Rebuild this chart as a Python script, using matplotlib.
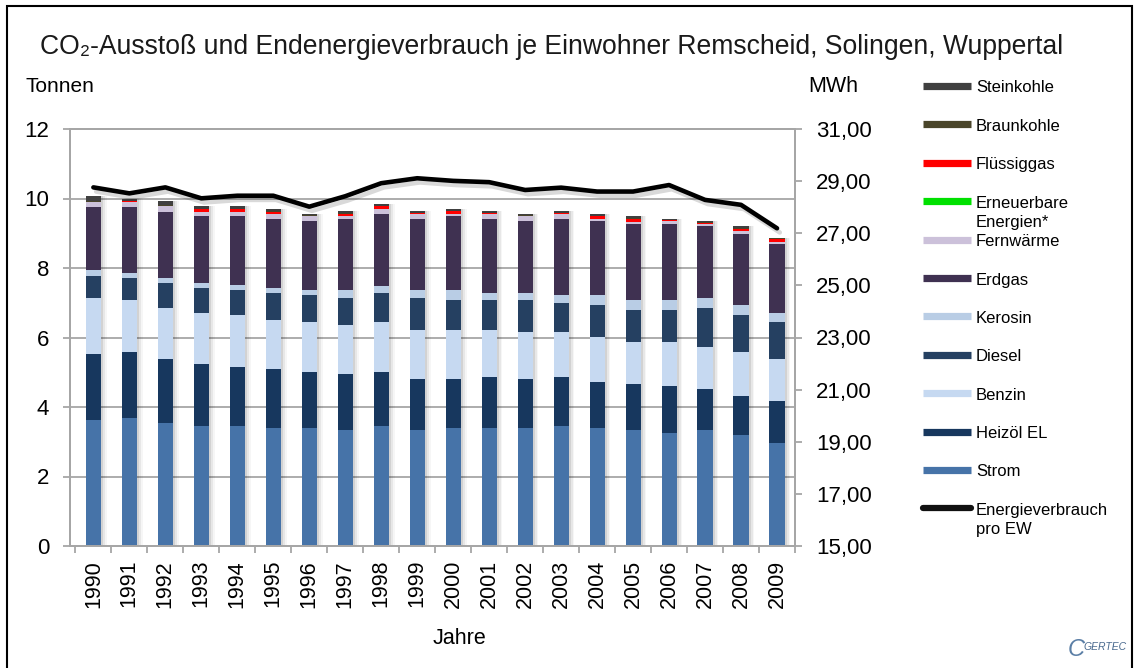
import numpy as np
import matplotlib
matplotlib.use("Agg")
import matplotlib.pyplot as plt
import matplotlib.patheffects as pe
from matplotlib.lines import Line2D
from matplotlib.patches import Rectangle

plt.rcParams['font.family'] = ['Liberation Sans', 'DejaVu Sans']

# =========================================================================
# DATA
# =========================================================================
years = [str(y) for y in range(1990, 2010)]

strom      = [3.62, 3.67, 3.53, 3.46, 3.46, 3.40, 3.40, 3.33, 3.46, 3.33,
              3.40, 3.40, 3.40, 3.46, 3.40, 3.33, 3.25, 3.33, 3.18, 2.96]
heizoel    = [1.90, 1.90, 1.84, 1.78, 1.69, 1.68, 1.62, 1.62, 1.56, 1.47,
              1.40, 1.46, 1.40, 1.40, 1.33, 1.33, 1.34, 1.18, 1.13, 1.20]
benzin     = [1.63, 1.50, 1.49, 1.47, 1.50, 1.43, 1.42, 1.42, 1.42, 1.43,
              1.43, 1.37, 1.35, 1.29, 1.28, 1.21, 1.28, 1.22, 1.27, 1.21]
diesel     = [0.63, 0.64, 0.71, 0.71, 0.71, 0.77, 0.77, 0.78, 0.84, 0.92,
              0.84, 0.84, 0.92, 0.85, 0.92, 0.91, 0.91, 1.13, 1.07, 1.07]
kerosin    = [0.15, 0.15, 0.14, 0.15, 0.14, 0.14, 0.15, 0.21, 0.21, 0.21,
              0.29, 0.21, 0.21, 0.21, 0.28, 0.29, 0.29, 0.29, 0.28, 0.27]
erdgas     = [1.83, 1.90, 1.90, 1.93, 2.00, 1.99, 1.99, 2.05, 2.06, 2.05,
              2.14, 2.13, 2.07, 2.20, 2.14, 2.21, 2.21, 2.06, 2.06, 1.99]
fernwaerme = [0.14, 0.14, 0.16, 0.12, 0.12, 0.13, 0.14, 0.08, 0.15, 0.15,
              0.06, 0.14, 0.14, 0.14, 0.06, 0.05, 0.07, 0.07, 0.07, 0.06]
erneuerbar = [0.00] * 20
fluessig   = [0.01, 0.02, 0.01, 0.07, 0.07, 0.07, 0.01, 0.07, 0.07, 0.01,
              0.07, 0.02, 0.01, 0.02, 0.08, 0.08, 0.02, 0.02, 0.07, 0.08]
braunkohle = [0.02, 0.02, 0.02, 0.02, 0.02, 0.02, 0.02, 0.02, 0.02, 0.02,
              0.02, 0.02, 0.02, 0.02, 0.02, 0.02, 0.02, 0.02, 0.02, 0.01]
steinkohle = [0.13, 0.06, 0.13, 0.06, 0.06, 0.07, 0.04, 0.05, 0.05, 0.04,
              0.05, 0.04, 0.04, 0.04, 0.05, 0.07, 0.03, 0.03, 0.05, 0.02]

energie_mwh = [28.76, 28.53, 28.76, 28.34, 28.44, 28.44, 28.02, 28.42, 28.92, 29.11,
               29.01, 28.96, 28.66, 28.75, 28.60, 28.60, 28.85, 28.28, 28.09, 27.19]

# stacking order bottom -> top
series = [
    ('Strom', strom, '#4673A8'),
    ('Heizöl EL', heizoel, '#17375E'),
    ('Benzin', benzin, '#C6D9F1'),
    ('Diesel', diesel, '#254061'),
    ('Kerosin', kerosin, '#B9CDE5'),
    ('Erdgas', erdgas, '#3F3151'),
    ('Fernwärme', fernwaerme, '#CCC1DA'),
    ('Erneuerbare\nEnergien*', erneuerbar, '#00E000'),
    ('Flüssiggas', fluessig, '#FF0000'),
    ('Braunkohle', braunkohle, '#4A452A'),
    ('Steinkohle', steinkohle, '#404040'),
]

# =========================================================================
# FIGURE
# =========================================================================
W, H = 1134, 668
fig = plt.figure(figsize=(W / 100, H / 100), dpi=100)

def fx(px):
    return px / W

def fy(py):
    return 1 - py / H

ax = fig.add_axes([fx(70), fy(546), fx(795) - fx(70), fy(129) - fy(546)])

x = np.arange(len(years))
bar_w = 0.42
totals = np.sum([s[1] for s in series], axis=0)

# soft shadow right of the bars
for k, a in enumerate([0.09, 0.06, 0.035]):
    ax.bar(x + 0.06 + 0.05 * k, totals, width=bar_w, color='black', alpha=a,
           linewidth=0, zorder=1)

bottom = np.zeros(len(years))
for name, vals, col in series:
    ax.bar(x, vals, width=bar_w, bottom=bottom, color=col, linewidth=0, zorder=2)
    bottom += np.array(vals)

ax.set_xlim(-0.65, 19.5)
ax.set_ylim(0, 12)
ax.set_yticks(range(0, 13, 2))
ax.set_xticks(x)
ax.set_xticklabels(years, rotation=90, fontsize=15.5)
ax.set_xticks(np.arange(-0.5, 19.6, 1), minor=True)
ax.tick_params(axis='x', which='major', length=0, pad=10)
ax.tick_params(axis='x', which='minor', length=5, width=1.3, color='#A6A6A6', direction='out')
ax.tick_params(axis='y', labelsize=16, length=5, width=1.3, color='#A6A6A6', pad=10)
ax.grid(axis='y', color='#A6A6A6', linewidth=1.3, zorder=0)
ax.set_axisbelow(True)
for sp in ax.spines.values():
    sp.set_color('#A6A6A6')
    sp.set_linewidth(1.3)

ax2 = ax.twinx()
ax2.set_ylim(15, 31)
ax2.set_yticks(range(15, 32, 2))
ax2.set_yticklabels([f'{v:.2f}'.replace('.', ',') for v in range(15, 32, 2)])
ax2.tick_params(axis='y', labelsize=16, length=5, width=1.3, color='#A6A6A6', pad=10)
for sp in ax2.spines.values():
    sp.set_color('#A6A6A6')
    sp.set_linewidth(1.3)
ax2.plot(x, energie_mwh, color='black', linewidth=3.3, solid_capstyle='round',
         solid_joinstyle='round',
         path_effects=[pe.SimpleLineShadow(offset=(2, -3), alpha=0.15), pe.Normal()])

# =========================================================================
# TEXTS
# =========================================================================
fig.text(fx(40), fy(47), 'CO₂-Ausstoß und Endenergieverbrauch je Einwohner Remscheid, Solingen, Wuppertal',
         fontsize=19.1, va='center', ha='left', color='#1a1a1a')
fig.text(fx(25), fy(87), 'Tonnen', fontsize=15, va='center', ha='left')
fig.text(fx(808), fy(87), 'MWh', fontsize=15.5, va='center', ha='left')
fig.text(fx(459), fy(638), 'Jahre', fontsize=15.5, va='center', ha='center')

# manual legend, top entry = top of the stack
legend_items = [(n, c, 4.0 * 1.3) for n, _, c in reversed(series)]
legend_items.append(('Energieverbrauch\npro EW', '#111111', 4.5))
y0, step = 86, 38.4
for i, (name, col, lw) in enumerate(legend_items):
    yy = y0 + i * step
    cap = 'round' if name.startswith('Energiev') else 'butt'
    fig.add_artist(Line2D([fx(923), fx(971)], [fy(yy), fy(yy)], color=col,
                          linewidth=lw, solid_capstyle=cap))
    for j, part in enumerate(name.split('\n')):
        fig.text(fx(976), fy(yy + 2 + 19.5 * j), part, fontsize=12,
                 va='center', ha='left')

# logo text
fig.text(fx(1068), fy(650), 'C', fontsize=17, color='#5b7fa6', va='center', ha='left',
         style='italic')
fig.text(fx(1083), fy(647), 'GERTEC', fontsize=7.5, color='#4a6a8f', va='center', ha='left',
         style='italic')

# outer frame
fig.add_artist(Rectangle((fx(7), -0.02), fx(1132) - fx(7), fy(6) + 0.02,
                         transform=fig.transFigure, fill=False, edgecolor='black',
                         linewidth=1.5))

fig.savefig('out.png', dpi=100)
